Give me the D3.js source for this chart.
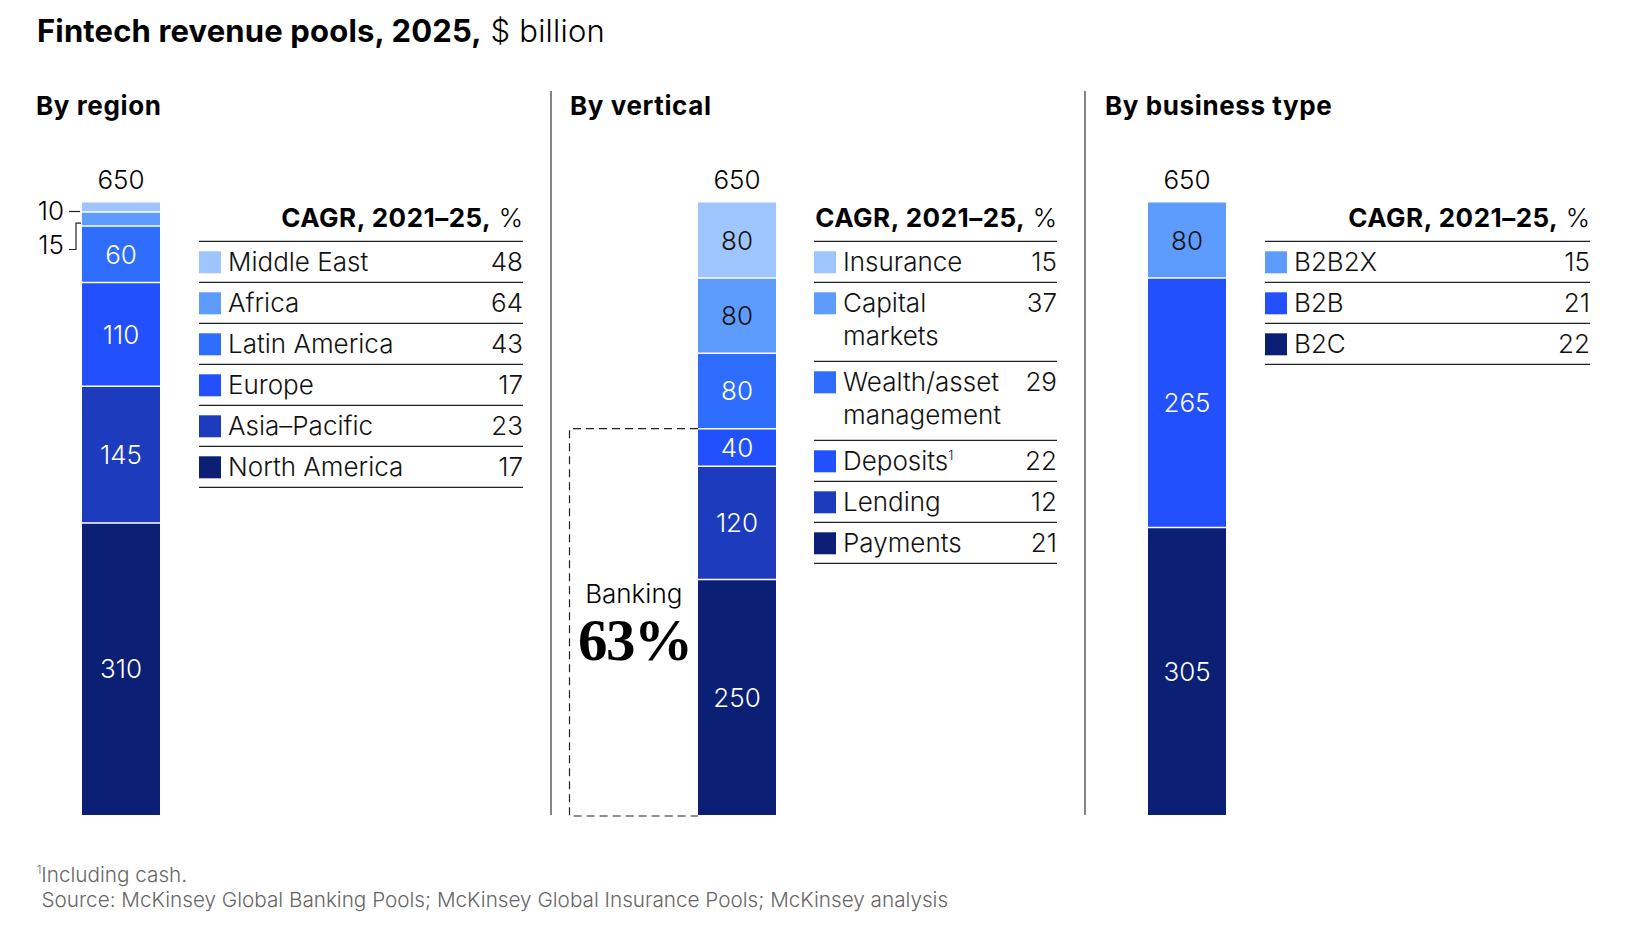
<!DOCTYPE html>
<html>
<head>
<meta charset="utf-8">
<script src="https://cdn.jsdelivr.net/npm/d3@7"></script>
<style>
  body { margin: 0; background: #fff; }
  svg { font-family: Inter, "Liberation Sans", sans-serif; }
</style>
</head>
<body>
<svg id="chart" width="1638" height="933"></svg>
<script>
// data
const regionNames = [["Middle East"], ["Africa"], ["Latin America"], ["Europe"], ["Asia–Pacific"], ["North America"]];
const regionValues = [10, 15, 60, 110, 145, 310];
const regionCagr = [48, 64, 43, 17, 23, 17];

const verticalNames = [["Insurance"], ["Capital", "markets"], ["Wealth/asset", "management"], ["Deposits"], ["Lending"], ["Payments"]];
const verticalValues = [80, 80, 80, 40, 120, 250];
const verticalCagr = [15, 37, 29, 22, 12, 21];
const verticalNotes = ["", "", "", "1", "", ""];

const businessNames = [["B2B2X"], ["B2B"], ["B2C"]];
const businessValues = [80, 265, 305];
const businessCagr = [15, 21, 22];

const bankingShare = "63%";

const blues = ["#9ec5fd", "#5d9bfc", "#2e6dfd", "#2350fd", "#1c3bbd", "#0b1f74"];

const svg = d3.select("#chart");
const barW = 78;
const y = d3.scaleLinear().domain([0, 650]).range([815, 202.5]);

// title
const title = svg.append("text").attr("x", 37).attr("y", 42).attr("font-size", 31).attr("fill", "#000");
title.append("tspan").attr("font-weight", 700).attr("letter-spacing", 0.15).text("Fintech revenue pools, 2025,");
title.append("tspan").attr("font-weight", 300).attr("letter-spacing", 0.2).text(" $ billion");

// separators
[551, 1085].forEach((x) =>
  svg.append("line").attr("x1", x).attr("x2", x).attr("y1", 91).attr("y2", 815)
    .attr("stroke", "#333").attr("stroke-width", 1.2)
);

const drawPanel = (cfg) => {
  const g = svg.append("g");
  g.append("text").attr("x", cfg.headX).attr("y", 115).attr("font-size", 26)
    .attr("font-weight", 700).attr("letter-spacing", 0.6).text(cfg.heading);

  // stack from the bottom: last item sits on the baseline
  const n = cfg.values.length;
  const segs = [];
  let acc = 0;
  d3.range(n).reverse().forEach((i) => {
    segs[i] = { i, v: cfg.values[i], y0: acc, y1: acc + cfg.values[i] };
    acc += cfg.values[i];
  });

  g.selectAll("rect.seg").data(segs).join("rect")
    .attr("class", "seg")
    .attr("x", cfg.barX).attr("width", barW)
    .attr("y", (d) => y(d.y1)).attr("height", (d) => y(d.y0) - y(d.y1))
    .attr("fill", (d) => cfg.colors[d.i]);

  g.selectAll("line.cut").data(segs.filter((d) => d.y0 > 0)).join("line")
    .attr("x1", cfg.barX).attr("x2", cfg.barX + barW)
    .attr("y1", (d) => y(d.y0)).attr("y2", (d) => y(d.y0))
    .attr("stroke", "#fff").attr("stroke-width", 1.5);

  // total
  g.append("text").attr("x", cfg.barX + barW / 2).attr("y", 189)
    .attr("text-anchor", "middle").attr("font-size", 26).attr("font-weight", 300)
    .text(d3.sum(cfg.values));

  // labels inside
  g.selectAll("text.val").data(segs.filter((d) => d.v >= 30)).join("text")
    .attr("class", "val")
    .attr("x", cfg.barX + barW / 2)
    .attr("y", (d) => (y(d.y0) + y(d.y1)) / 2)
    .attr("dy", "0.36em")
    .attr("text-anchor", "middle").attr("font-size", 26).attr("font-weight", 300)
    .attr("fill", (d) => (d3.lab(cfg.colors[d.i]).l > 60 ? "#111" : "#fff"))
    .text((d) => d.v);

  // table
  const t = g.append("g");
  const head = t.append("text").attr("x", cfg.tabR).attr("y", 227)
    .attr("text-anchor", "end").attr("font-size", 26);
  head.append("tspan").attr("font-weight", 700).attr("letter-spacing", 0.5).text("CAGR, 2021–25,");
  head.append("tspan").attr("font-weight", 300).text(" %");

  let top = 241.3;
  const rule = (yy) => t.append("line").attr("x1", cfg.tabL).attr("x2", cfg.tabR)
    .attr("y1", yy).attr("y2", yy).attr("stroke", "#222").attr("stroke-width", 1.2);
  rule(top);
  cfg.names.forEach((lines, i) => {
    t.append("rect").attr("x", cfg.tabL).attr("y", top + 10).attr("width", 22).attr("height", 22)
      .attr("fill", cfg.colors[i]);
    const lbl = t.append("text").attr("x", cfg.tabL + 29).attr("y", top + 29.5)
      .attr("font-size", 26).attr("font-weight", 300).attr("fill", "#111");
    lines.forEach((s, k) => {
      lbl.append("tspan").attr("x", cfg.tabL + 29).attr("dy", k ? 33 : 0).text(s);
      if (k === lines.length - 1 && cfg.notes && cfg.notes[i]) {
        lbl.append("tspan").attr("font-size", 13).attr("dy", -10).text(cfg.notes[i]);
      }
    });
    t.append("text").attr("x", cfg.tabR).attr("y", top + 29.5).attr("text-anchor", "end")
      .attr("font-size", 26).attr("font-weight", 300).attr("fill", "#111").text(cfg.cagr[i]);
    top += 41 + (lines.length - 1) * 38;
    rule(top);
  });
  return { g, segs };
};

// by region
const region = drawPanel({
  heading: "By region", headX: 36, barX: 82, tabL: 199, tabR: 523,
  names: regionNames, values: regionValues, cagr: regionCagr, colors: blues,
});

// small segments labelled outside with leaders
const rs = region.segs;
region.g.append("text").attr("x", 64).attr("y", 211).attr("dy", "0.36em")
  .attr("text-anchor", "end").attr("font-size", 26).attr("font-weight", 300).text(rs[0].v);
region.g.append("line").attr("x1", 69).attr("x2", 80).attr("y1", 211.5).attr("y2", 211.5)
  .attr("stroke", "#222").attr("stroke-width", 1.2);
region.g.append("text").attr("x", 64).attr("y", 245).attr("dy", "0.36em")
  .attr("text-anchor", "end").attr("font-size", 26).attr("font-weight", 300).text(rs[1].v);
region.g.append("path")
  .attr("d", d3.line()([[81, y(rs[1].y0) - 3], [76, y(rs[1].y0) - 3], [76, 249.5], [69, 249.5]]))
  .attr("fill", "none").attr("stroke", "#222").attr("stroke-width", 1.2);

// by vertical
const vertical = drawPanel({
  heading: "By vertical", headX: 570, barX: 698, tabL: 814, tabR: 1057,
  names: verticalNames, values: verticalValues, cagr: verticalCagr, notes: verticalNotes, colors: blues,
});

// banking bracket: deposits + lending + payments
const vs = vertical.segs;
const bankTop = y(vs[3].y1);
const boxL = 569.5;
vertical.g.append("path")
  .attr("d", d3.line()([[698, bankTop], [boxL, bankTop], [boxL, 816], [698, 816]]))
  .attr("fill", "none").attr("stroke", "#222").attr("stroke-width", 1.2)
  .attr("stroke-dasharray", "8,5");
vertical.g.append("text").attr("x", (boxL + 698) / 2).attr("y", 603).attr("text-anchor", "middle")
  .attr("font-size", 26).attr("font-weight", 300).text("Banking");
vertical.g.append("text").attr("x", (boxL + 698) / 2 + 1).attr("y", 660).attr("text-anchor", "middle")
  .attr("font-family", "'Liberation Serif', 'DejaVu Serif', serif").attr("font-weight", 700)
  .attr("font-size", 59).attr("letter-spacing", -1.5).text(bankingShare);

// by business type
drawPanel({
  heading: "By business type", headX: 1105, barX: 1148, tabL: 1265, tabR: 1590,
  names: businessNames, values: businessValues, cagr: businessCagr, colors: [blues[1], blues[3], blues[5]],
});

// footnotes
const fn = svg.append("text").attr("x", 37).attr("y", 882).attr("font-size", 20.7)
  .attr("font-weight", 300).attr("fill", "#666");
fn.append("tspan").attr("font-size", 11).attr("dy", -8).text("1");
fn.append("tspan").attr("dy", 8).text("Including cash.");
svg.append("text").attr("x", 41.5).attr("y", 906.5).attr("font-size", 20.7)
  .attr("font-weight", 300).attr("fill", "#666")
  .text("Source: McKinsey Global Banking Pools; McKinsey Global Insurance Pools; McKinsey analysis");
</script>
</body>
</html>
